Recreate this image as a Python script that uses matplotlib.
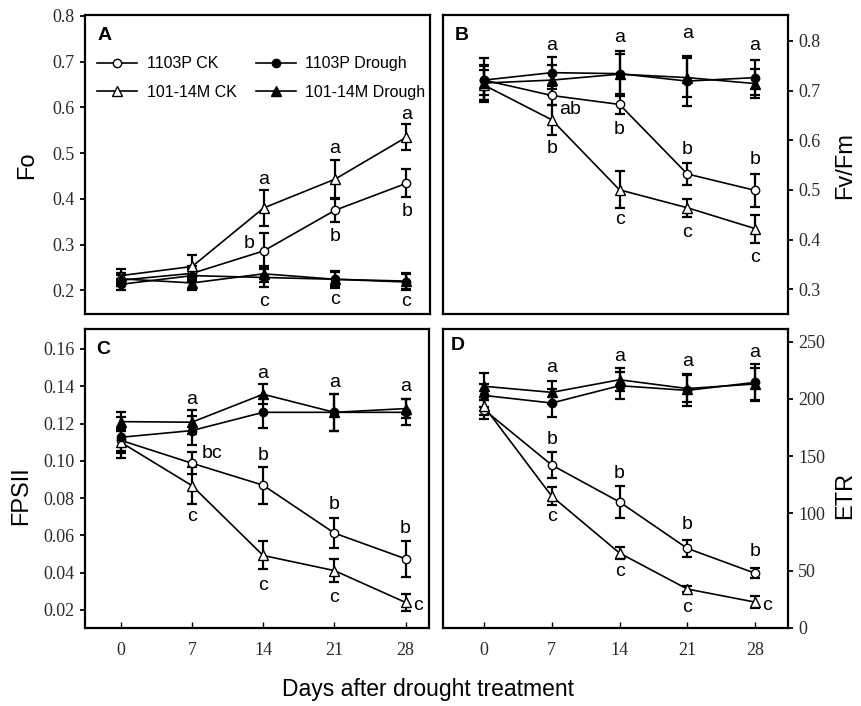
import numpy as np
import matplotlib.pyplot as plt

plt.rcParams['font.family'] = ['Liberation Sans', 'DejaVu Sans']
serif = 'Liberation Serif'

# Days after drought treatment
days = [0, 7, 14, 21, 28]
day_labels = ['0', '7', '14', '21', '28']

# A: Fo
fo_ck1103 = [0.222, 0.237, 0.286, 0.375, 0.434]
fo_ck1103_err = [0.012, 0.015, 0.040, 0.026, 0.031]
fo_ck101 = [0.232, 0.252, 0.380, 0.443, 0.535]
fo_ck101_err = [0.015, 0.025, 0.040, 0.043, 0.028]
fo_dr1103 = [0.213, 0.232, 0.228, 0.224, 0.218]
fo_dr1103_err = [0.012, 0.015, 0.020, 0.018, 0.018]
fo_dr101 = [0.225, 0.216, 0.236, 0.224, 0.220]
fo_dr101_err = [0.012, 0.015, 0.017, 0.015, 0.018]

# B: Fv/Fm
fvfm_ck1103 = [0.721, 0.690, 0.672, 0.532, 0.499]
fvfm_ck1103_err = [0.030, 0.020, 0.020, 0.022, 0.033]
fvfm_ck101 = [0.711, 0.641, 0.500, 0.464, 0.422]
fvfm_ck101_err = [0.030, 0.030, 0.037, 0.018, 0.028]
fvfm_dr1103 = [0.721, 0.736, 0.734, 0.719, 0.726]
fvfm_dr1103_err = [0.045, 0.032, 0.045, 0.050, 0.035]
fvfm_dr101 = [0.715, 0.721, 0.733, 0.726, 0.714]
fvfm_dr101_err = [0.035, 0.030, 0.040, 0.040, 0.030]

# C: FPSII
fpsii_ck1103 = [0.111, 0.0987, 0.0869, 0.0612, 0.0474]
fpsii_ck1103_err = [0.006, 0.006, 0.010, 0.008, 0.0095]
fpsii_ck101 = [0.110, 0.0867, 0.0492, 0.0411, 0.024]
fpsii_ck101_err = [0.006, 0.0098, 0.0075, 0.006, 0.0045]
fpsii_dr1103 = [0.1126, 0.1162, 0.126, 0.126, 0.126]
fpsii_dr1103_err = [0.011, 0.008, 0.0085, 0.010, 0.007]
fpsii_dr101 = [0.121, 0.1207, 0.1357, 0.126, 0.128]
fpsii_dr101_err = [0.005, 0.0065, 0.0055, 0.010, 0.005]

# D: ETR
etr_ck1103 = [190.6, 142.2, 110.0, 69.5, 47.8]
etr_ck1103_err = [8, 11, 14, 7.5, 4.5]
etr_ck101 = [193.5, 115.0, 65.4, 34.0, 22.6]
etr_ck101_err = [8, 8, 5.5, 2.7, 5.5]
etr_dr1103 = [203.0, 196.4, 211.5, 207.4, 214.4]
etr_dr1103_err = [10, 12, 12, 14, 16]
etr_dr101 = [211.0, 205.7, 216.7, 209.0, 213.0]
etr_dr101_err = [12, 10, 10, 12, 14]

# significance letters (day, value, letter)
letters_a = [(14, 0.443, 'a'), (12.6, 0.302, 'b'), (14, 0.175, 'c'),
             (21, 0.510, 'a'), (21, 0.317, 'b'), (21, 0.179, 'c'),
             (28, 0.585, 'a'), (28.1, 0.373, 'b'), (28, 0.175, 'c')]
letters_b = [(7, 0.791, 'a'), (8.9, 0.661, 'ab'), (7, 0.584, 'b'),
             (14, 0.807, 'a'), (14, 0.622, 'b'), (14, 0.440, 'c'),
             (21, 0.815, 'a'), (21, 0.581, 'b'), (21, 0.415, 'c'),
             (28, 0.791, 'a'), (28, 0.562, 'b'), (28, 0.364, 'c')]
letters_c = [(7, 0.133, 'a'), (9.0, 0.104, 'bc'), (7, 0.070, 'c'),
             (14, 0.147, 'a'), (14, 0.1026, 'b'), (14, 0.033, 'c'),
             (21, 0.142, 'a'), (21, 0.0767, 'b'), (21, 0.0267, 'c'),
             (28, 0.140, 'a'), (28, 0.0638, 'b'), (29.2, 0.0226, 'c')]
letters_d = [(7, 227.4, 'a'), (7, 164.5, 'b'), (7, 97.3, 'c'),
             (14, 237.0, 'a'), (14, 135.0, 'b'), (14, 49.3, 'c'),
             (21, 232.6, 'a'), (21, 90.0, 'b'), (21, 18.2, 'c'),
             (28, 240.4, 'a'), (28, 67.0, 'b'), (29.2, 19.7, 'c')]

series_names = ['1103P CK', '101-14M CK', '1103P Drough', '101-14M Drough']
styles = [dict(marker='o', mfc='white', ms=6),
          dict(marker='^', mfc='white', ms=6.5),
          dict(marker='o', mfc='black', ms=6),
          dict(marker='^', mfc='black', ms=6.5)]

fig = plt.figure(figsize=(8.62, 7.06), dpi=100)
ax_a = fig.add_axes([0.0986, 0.5552, 0.4002, 0.4235])
ax_b = fig.add_axes([0.5139, 0.5552, 0.4002, 0.4235])
ax_c = fig.add_axes([0.0986, 0.1105, 0.3991, 0.4235])
ax_d = fig.add_axes([0.5139, 0.1105, 0.4002, 0.4235])


def draw_panel(ax, data, errs, letters):
    handles = []
    for vals, err, st, name in zip(data, errs, styles, series_names):
        ax.errorbar(days, vals, yerr=err, fmt='none', ecolor='black',
                    elinewidth=1.6, capsize=3.8, capthick=1.6, zorder=2)
        h, = ax.plot(days, vals, color='black', lw=1.2, mec='black',
                     mew=1.0, zorder=3, label=name, **st)
        handles.append(h)
    for x, y, t in letters:
        ax.text(x, y, t, fontsize=14, ha='center', va='center')
    for s in ax.spines.values():
        s.set_linewidth(1.6)
    return handles


handles = draw_panel(ax_a, [fo_ck1103, fo_ck101, fo_dr1103, fo_dr101],
                     [fo_ck1103_err, fo_ck101_err, fo_dr1103_err, fo_dr101_err],
                     letters_a)
draw_panel(ax_b, [fvfm_ck1103, fvfm_ck101, fvfm_dr1103, fvfm_dr101],
           [fvfm_ck1103_err, fvfm_ck101_err, fvfm_dr1103_err, fvfm_dr101_err],
           letters_b)
draw_panel(ax_c, [fpsii_ck1103, fpsii_ck101, fpsii_dr1103, fpsii_dr101],
           [fpsii_ck1103_err, fpsii_ck101_err, fpsii_dr1103_err, fpsii_dr101_err],
           letters_c)
draw_panel(ax_d, [etr_ck1103, etr_ck101, etr_dr1103, etr_dr101],
           [etr_ck1103_err, etr_ck101_err, etr_dr1103_err, etr_dr101_err],
           letters_d)

# axis ranges and ticks
ax_a.set_xlim(-3.5, 30.3)
ax_c.set_xlim(-3.5, 30.3)
ax_b.set_xlim(-4.24, 31.4)
ax_d.set_xlim(-4.24, 31.4)
ax_a.set_ylim(0.148, 0.802)
ax_b.set_ylim(0.25, 0.852)
ax_c.set_ylim(0.0103, 0.1707)
ax_d.set_ylim(0, 261)

ax_a.set_yticks(np.arange(0.2, 0.81, 0.1))
ax_a.set_yticklabels(['0.2', '0.3', '0.4', '0.5', '0.6', '0.7', '0.8'])
ax_b.set_yticks(np.arange(0.3, 0.81, 0.1))
ax_b.set_yticklabels(['0.3', '0.4', '0.5', '0.6', '0.7', '0.8'])
ax_c.set_yticks(np.arange(0.02, 0.161, 0.02))
ax_c.set_yticklabels(['0.02', '0.04', '0.06', '0.08', '0.10', '0.12', '0.14', '0.16'])
ax_d.set_yticks([0, 50, 100, 150, 200, 250])

for ax in (ax_b, ax_d):
    ax.yaxis.tick_right()

for ax in (ax_a, ax_b, ax_c, ax_d):
    ax.set_xticks(days)
    ax.tick_params(axis='y', direction='out', length=3.5, width=1.3,
                   labelsize=13, pad=4)
    ax.tick_params(axis='x', direction='in', length=4, width=1.0,
                   labelsize=13, pad=10)
    for lab in ax.get_xticklabels() + ax.get_yticklabels():
        lab.set_fontfamily(serif)
        lab.set_color('#2a2a2a')

for ax in (ax_a, ax_b):
    ax.tick_params(axis='x', length=0, labelbottom=False)
for ax in (ax_c, ax_d):
    ax.set_xticklabels(day_labels, fontfamily=serif)

# panel letters
for ax, lab, (px, py) in [(ax_a, 'A', (0.058, 0.933)), (ax_b, 'B', (0.055, 0.933)),
                          (ax_c, 'C', (0.052, 0.930)), (ax_d, 'D', (0.043, 0.946))]:
    ax.text(px, py, lab, transform=ax.transAxes, fontsize=14,
            fontweight='bold', ha='center', va='center')

ax_a.legend(handles=handles, ncol=2, loc='upper left',
            bbox_to_anchor=(0.035, 0.862), frameon=False, fontsize=11.5,
            handlelength=2.5, handletextpad=0.6, columnspacing=1.2,
            labelspacing=0.85, borderpad=0, borderaxespad=0)

# axis titles
fig.text(0.031, 0.766, 'Fo', rotation=90, fontsize=17, ha='center', va='center')
fig.text(0.025, 0.298, 'FPSII', rotation=90, fontsize=17, ha='center', va='center')
fig.text(0.980, 0.766, 'Fv/Fm', rotation=90, fontsize=17, ha='center', va='center')
fig.text(0.980, 0.298, 'ETR', rotation=90, fontsize=17, ha='center', va='center')
fig.text(0.497, 0.024, 'Days after drought treatment', fontsize=16.5,
         ha='center', va='center')

fig.savefig('out.png', dpi=100)
